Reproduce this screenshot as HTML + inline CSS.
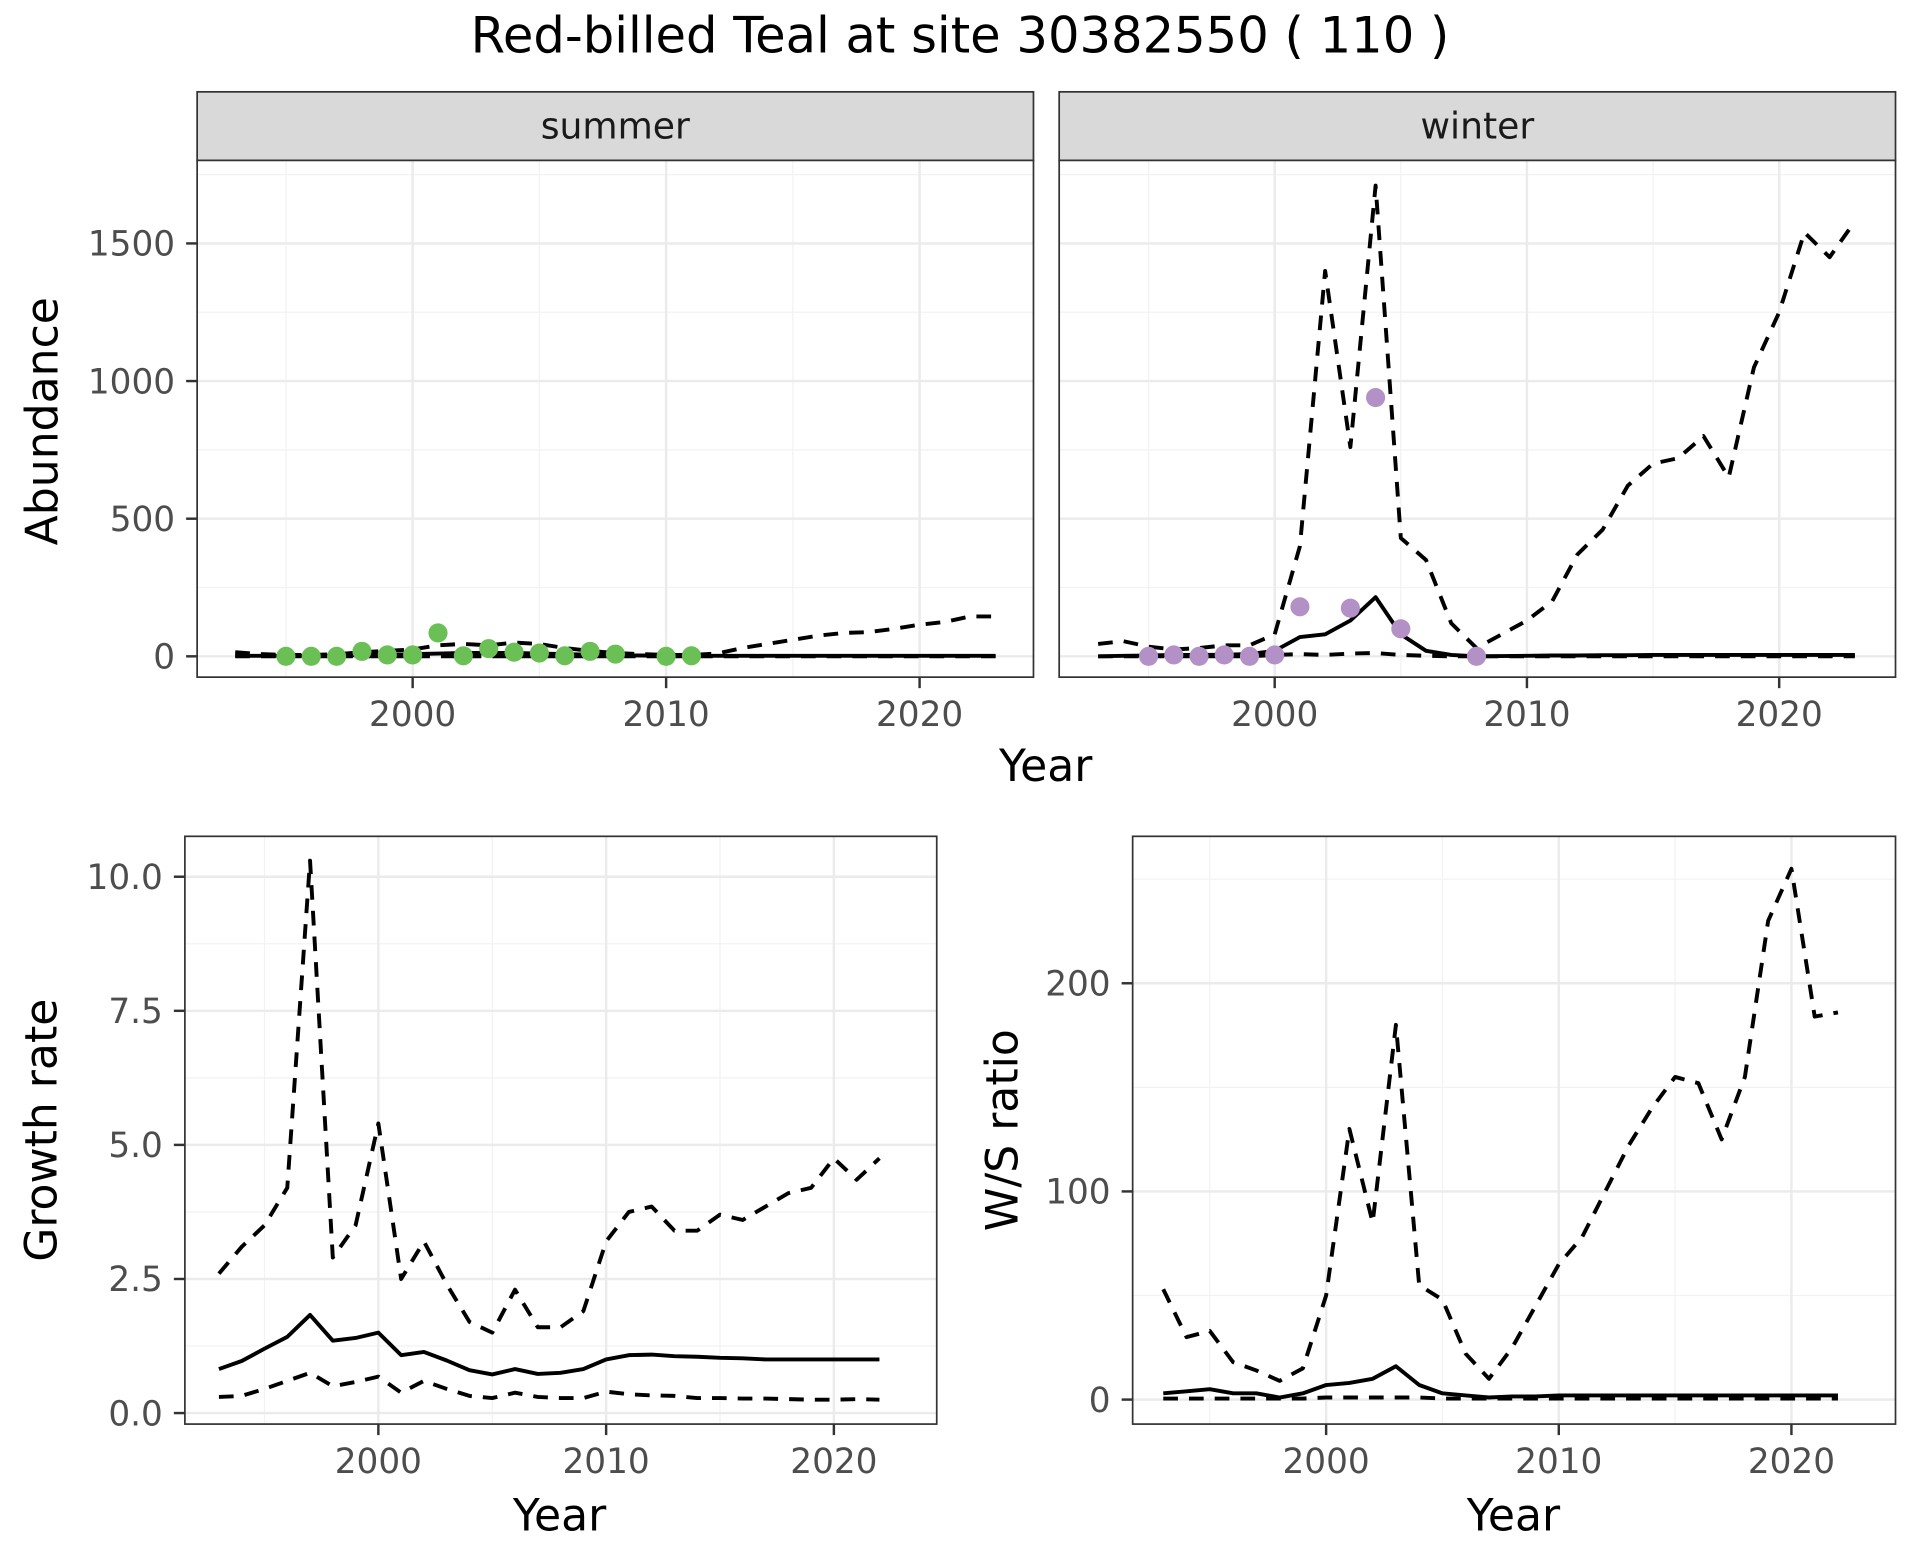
<!DOCTYPE html>
<html><head><meta charset="utf-8"><style>
body{margin:0;background:#fff}
svg{display:block;font-family:"DejaVu Sans","Liberation Sans",sans-serif}
</style></head><body>
<svg id="c" width="1920" height="1560" viewBox="0 0 1568 1274" preserveAspectRatio="none"></svg>
<script>
const yearsAb = [1993,1994,1995,1996,1997,1998,1999,2000,2001,2002,2003,2004,2005,2006,2007,2008,2009,2010,2011,2012,2013,2014,2015,2016,2017,2018,2019,2020,2021,2022,2023];
const sumUpper = [15,8,5,5,8,15,20,25,40,45,40,50,45,30,20,12,8,5,5,10,30,45,60,75,85,88,100,115,125,145,145];
const sumMid = [2,2,2,2,3,4,5,8,10,12,12,12,10,8,6,4,3,2,2,2,2,2,2,2,2,2,2,2,2,2,2];
const sumLower = [0,0,0,0,0,0,0,0,0,0,0,0,0,0,0,0,0,0,0,0,0,0,0,0,0,0,0,0,0,0,0];
const sumPtYears = [1995,1996,1997,1998,1999,2000,2001,2002,2003,2004,2005,2006,2007,2008,2010,2011];
const sumPtVals = [0,0,0,18,5,5,85,2,28,15,12,2,18,8,0,2];
const winUpper = [45,55,35,25,30,40,40,80,400,1400,760,1710,430,350,120,30,80,130,200,370,460,620,700,720,800,650,1050,1250,1540,1450,1580];
const winMid = [0,2,3,5,5,6,8,20,70,80,130,215,80,20,5,0,1,2,3,3,4,4,5,5,5,5,5,5,5,5,5];
const winLower = [0,0,0,0,0,0,0,5,8,5,10,12,5,2,0,0,0,0,0,0,0,0,0,0,0,0,0,0,0,0,0];
const winPtYears = [1995,1996,1997,1998,1999,2000,2001,2003,2004,2005,2008];
const winPtVals = [0,5,0,5,0,5,180,175,940,100,0];
const yearsGr = [1993,1994,1995,1996,1997,1998,1999,2000,2001,2002,2003,2004,2005,2006,2007,2008,2009,2010,2011,2012,2013,2014,2015,2016,2017,2018,2019,2020,2021,2022];
const grUpper = [2.6,3.1,3.5,4.2,10.3,2.9,3.5,5.4,2.5,3.2,2.4,1.7,1.5,2.3,1.6,1.6,1.9,3.2,3.75,3.85,3.4,3.4,3.7,3.6,3.85,4.1,4.2,4.75,4.35,4.75];
const grMid = [0.82,0.97,1.2,1.42,1.83,1.35,1.4,1.5,1.08,1.14,0.98,0.8,0.72,0.82,0.73,0.75,0.82,1.0,1.08,1.09,1.06,1.05,1.03,1.02,1.0,1.0,1.0,1.0,1.0,1.0];
const grLower = [0.3,0.32,0.45,0.6,0.75,0.5,0.58,0.68,0.38,0.6,0.45,0.32,0.28,0.38,0.3,0.28,0.28,0.4,0.35,0.33,0.32,0.28,0.28,0.27,0.27,0.26,0.25,0.25,0.26,0.25];
const wsUpper = [53,30,33,18,14,9,15,50,130,85,180,55,48,22,10,25,45,65,78,100,122,140,155,152,125,155,230,255,184,186];
const wsMid = [3,4,5,3,3,1,3,7,8,10,16,7,3,2,1,1.5,1.5,2,2,2,2,2,2,2,2,2,2,2,2,2];
const wsLower = [0.5,0.5,0.5,0.5,0.5,0.5,0.5,1,1,1,1,1,0.5,0.5,0.5,0.5,0.5,0.5,0.5,0.5,0.5,0.5,0.5,0.5,0.5,0.5,0.5,0.5,0.5,0.5];
const xTicks = [2000,2010,2020];
const abTicks = [0,500,1000,1500];
const grTicks = [0,2.5,5,7.5,10];
const grTickLabels = ["0.0","2.5","5.0","7.5","10.0"];
const wsTicks = [0,100,200];

const svg = document.getElementById('c');
const NS = 'http://www.w3.org/2000/svg';
function mk(tag, attrs, parent){const e=document.createElementNS(NS,tag);for(const k in attrs)e.setAttribute(k,attrs[k]);(parent||svg).appendChild(e);return e;}
function txt(s, attrs, parent){const e=mk('text',attrs,parent);e.textContent=s;return e;}

function panel(name, p){
  const g = mk('g',{});
  
  
  const sx = y => p.x0 + (y - p.xa) * p.xs;
  const sy = v => p.y0 - (v - p.ya) * p.ys;
  mk('rect',{x:p.L,y:p.T,width:p.R-p.L,height:p.B-p.T,fill:'#fff'},g);
  for(let i=0;i<xTicks.length+1;i++){const v=xTicks[0]-5+i*10;const X=sx(v);if(X>p.L&&X<p.R)mk('line',{x1:X,x2:X,y1:p.T,y2:p.B,stroke:'#f2f2f2','stroke-width':1},g);}
  for(let i=0;i<p.yt.length+1;i++){const v=p.yt[0]+(i+0.5)*(p.yt[1]-p.yt[0]);const Y=sy(v);if(Y>p.T&&Y<p.B)mk('line',{x1:p.L,x2:p.R,y1:Y,y2:Y,stroke:'#f2f2f2','stroke-width':1},g);}
  xTicks.forEach(v=>{const X=sx(v);mk('line',{x1:X,x2:X,y1:p.T,y2:p.B,stroke:'#ebebeb','stroke-width':2},g);});
  p.yt.forEach(v=>{const Y=sy(v);mk('line',{x1:p.L,x2:p.R,y1:Y,y2:Y,stroke:'#ebebeb','stroke-width':2},g);});
  p.series.forEach(s=>{
    const d=s.vals.map((v,i)=>(i?'L':'M')+sx(s.years[i]).toFixed(2)+','+sy(v).toFixed(2)).join(' ');
    const l=mk('path',{d:d,fill:'none',stroke:'#000','stroke-width':3.2,'stroke-dasharray':s.dash?'12,9':'none','stroke-linejoin':'round'},g);
    
    
  });
  if(p.pts){p.pts.years.forEach((y,i)=>{
    const c=mk('circle',{cx:sx(y),cy:sy(p.pts.vals[i]),r:7.8,fill:p.pts.color},g);
    
    
  });}
  mk('rect',{x:p.L,y:p.T,width:p.R-p.L,height:p.B-p.T,fill:'none',stroke:'#333','stroke-width':1.4},g);
  xTicks.forEach(v=>{const X=sx(v);mk('line',{x1:X,x2:X,y1:p.B,y2:p.B+9,stroke:'#333','stroke-width':2},g);
    txt(String(v),{x:X,y:p.B+40,'text-anchor':'middle','font-size':28,fill:'#4d4d4d'},g);});
  if(p.ylab){p.yt.forEach((v,i)=>{const Y=sy(v);mk('line',{x1:p.L-9,x2:p.L,y1:Y,y2:Y,stroke:'#333','stroke-width':2},g);
    txt(p.ylab[i],{x:p.L-18,y:Y+10,'text-anchor':'end','font-size':28,fill:'#4d4d4d'},g);});}
  return g;
}

txt('Red-billed Teal at site 30382550 ( 110 )',{x:784,y:43,'text-anchor':'middle','font-size':40.5,fill:'#000'});

[['summer',161,844],['winter',865,1548]].forEach(([n,l,r])=>{
  const s=mk('rect',{x:l,y:75,width:r-l,height:56,fill:'#d9d9d9',stroke:'#333','stroke-width':1.4});
  
  
  txt(n,{x:(l+r)/2,y:113,'text-anchor':'middle','font-size':29.5,fill:'#1a1a1a'});
});

const abY={ya:0,y0:536,ys:112.4/500,T:131,B:553,yt:abTicks};
panel('summer-panel',Object.assign({L:161,R:844,xa:2000,x0:337,xs:20.7,ylab:abTicks.map(String),
  series:[{years:yearsAb,vals:sumUpper,dash:true,name:'summer-upper'},{years:yearsAb,vals:sumMid,dash:false,name:'summer-mid'},{years:yearsAb,vals:sumLower,dash:true,name:'summer-lower'}],
  pts:{years:sumPtYears,vals:sumPtVals,color:'#6abf55'}},abY));
panel('winter-panel',Object.assign({L:865,R:1548,xa:2000,x0:1041,xs:20.6,
  series:[{years:yearsAb,vals:winUpper,dash:true,name:'winter-upper'},{years:yearsAb,vals:winMid,dash:false,name:'winter-mid'},{years:yearsAb,vals:winLower,dash:true,name:'winter-lower'}],
  pts:{years:winPtYears,vals:winPtVals,color:'#b391c7'}},abY));
panel('growth-panel',{L:151,R:765,T:683,B:1163,xa:2000,x0:309,xs:18.6,ya:0,y0:1154,ys:43.8,yt:grTicks,ylab:grTickLabels,
  series:[{years:yearsGr,vals:grUpper,dash:true,name:'growth-upper'},{years:yearsGr,vals:grMid,dash:false,name:'growth-mid'},{years:yearsGr,vals:grLower,dash:true,name:'growth-lower'}]});
panel('ws-panel',{L:925,R:1548,T:683,B:1163,xa:2000,x0:1083,xs:19,ya:0,y0:1143,ys:1.7,yt:wsTicks,ylab:wsTicks.map(String),
  series:[{years:yearsGr,vals:wsUpper,dash:true,name:'ws-upper'},{years:yearsGr,vals:wsMid,dash:false,name:'ws-mid'},{years:yearsGr,vals:wsLower,dash:true,name:'ws-lower'}]});

txt('Year',{x:854,y:638,'text-anchor':'middle','font-size':36});
txt('Year',{x:457,y:1250,'text-anchor':'middle','font-size':36});
txt('Year',{x:1236,y:1250,'text-anchor':'middle','font-size':36});
txt('Abundance',{x:0,y:0,'text-anchor':'middle','font-size':36,transform:'translate(47,344) rotate(-90)'});
txt('Growth rate',{x:0,y:0,'text-anchor':'middle','font-size':36,transform:'translate(46,923) rotate(-90)'});
txt('W/S ratio',{x:0,y:0,'text-anchor':'middle','font-size':36,transform:'translate(831,923) rotate(-90)'});
</script>
</body></html>
